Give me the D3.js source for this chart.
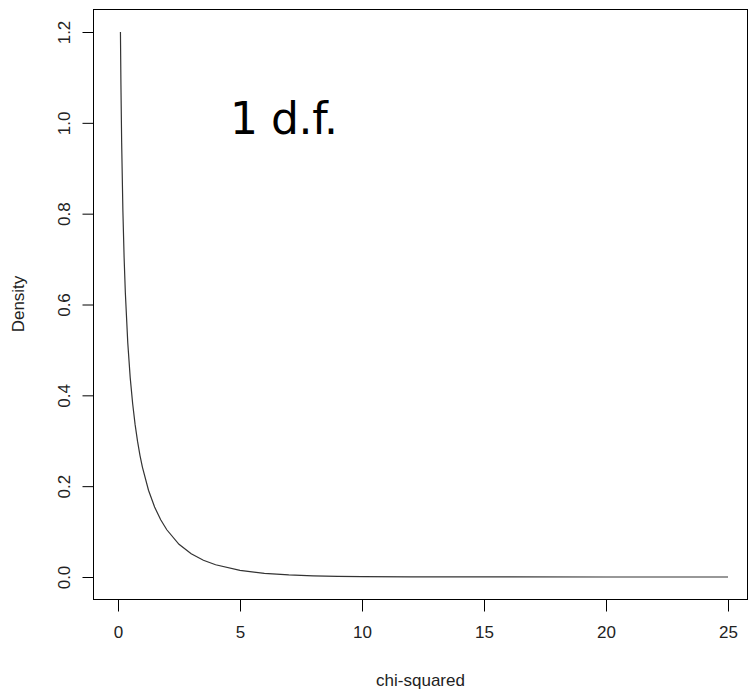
<!DOCTYPE html>
<html><head><meta charset="utf-8">
<script src="https://cdn.jsdelivr.net/npm/d3@7"></script>
<style>body{margin:0;background:#fff}</style>
</head><body>
<script>
const xValues = [0.1,0.12,0.15,0.2,0.25,0.3,0.4,0.5,0.6,0.7,0.8,0.9,1.0,1.25,1.5,1.75,2.0,2.5,3,3.5,4,5,6,7,8,9,10,12,15,20,25];
const densityValues = [1.2,1.085,0.956,0.807,0.704,0.627,0.516,0.439,0.382,0.336,0.299,0.268,0.242,0.191,0.154,0.126,0.104,0.072,0.051,0.037,0.027,0.0146,0.0081,0.0046,0.0026,0.0015,0.00085,0.00029,0.0001,0.000004,0.0000003];
const xTicks = [0,5,10,15,20,25];
const yTicks = [0,0.2,0.4,0.6,0.8,1.0,1.2];
const titleText = "1 d.f.";
const xLabel = "chi-squared";
const yLabel = "Density";

const W = 749, H = 692;
const svg = d3.select("body").append("svg").attr("width", W).attr("height", H);
const box = {l:93, r:748, t:9, b:599};
const x = d3.scaleLinear().domain([0,25]).range([118,728]);
const y = d3.scaleLinear().domain([0,1.2]).range([577,32]);

svg.append("rect").attr("x",box.l+0.5).attr("y",box.t+0.5).attr("width",box.r-box.l-1).attr("height",box.b-box.t)
  .attr("fill","none").attr("stroke","#000").attr("stroke-width",1);

const font = "'Liberation Sans', Arial, sans-serif";
const xg = svg.append("g").attr("transform",`translate(0,${box.b+0.5})`)
  .call(d3.axisBottom(x).tickValues(xTicks).tickSize(12).tickPadding(14).tickFormat(d3.format("d")));
xg.select(".domain").remove();
xg.selectAll("line").attr("stroke","#000");
xg.selectAll("text").attr("font-family",font).attr("font-size",17).attr("fill","#222");

const yg = svg.append("g").attr("transform",`translate(${box.l+0.5},0)`)
  .call(d3.axisLeft(y).tickValues(yTicks).tickSize(11).tickFormat(d3.format(".1f")));
yg.select(".domain").remove();
yg.selectAll("line").attr("stroke","#000");
yg.selectAll("text").attr("font-family",font).attr("font-size",17).attr("fill","#222")
  .attr("text-anchor","middle").attr("dy",null).attr("x",null)
  .attr("transform",d=>`translate(-30,0) rotate(-90)`).attr("y",6);

const line = d3.line().x((d,i)=>x(xValues[i])).y(d=>y(d));
svg.append("path").datum(densityValues).attr("d",line).attr("fill","none").attr("stroke","#333").attr("stroke-width",1.2);

svg.append("text").attr("x",230).attr("y",134).attr("font-family","'Comic Sans MS','DejaVu Sans',sans-serif")
  .attr("font-size",44).attr("textLength",108).attr("fill","#000").text(titleText);

svg.append("text").attr("x",(box.l+box.r)/2).attr("y",686).attr("text-anchor","middle")
  .attr("font-family",font).attr("font-size",17).attr("fill","#222").text(xLabel);
svg.append("text").attr("transform",`translate(24,${(box.t+box.b)/2}) rotate(-90)`).attr("text-anchor","middle")
  .attr("font-family",font).attr("font-size",17).attr("fill","#222").text(yLabel);
</script>
</body></html>
